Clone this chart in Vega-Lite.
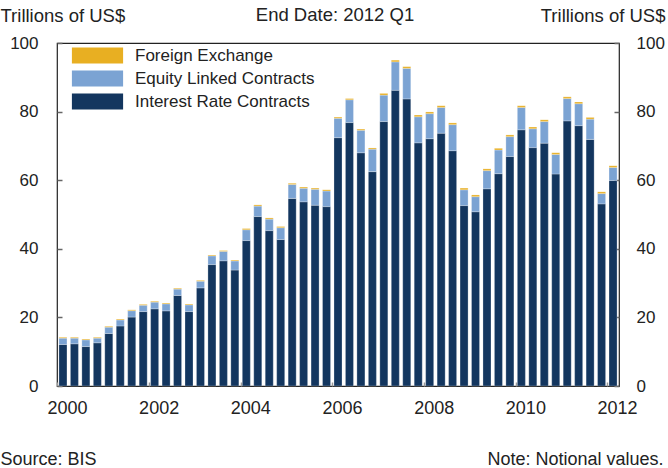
{
  "$schema": "https://vega.github.io/schema/vega-lite/v6.json",
  "width": 562,
  "height": 343,
  "autosize": {"type": "none"},
  "padding": {"left": 57, "top": 43, "right": 49, "bottom": 82},
  "background": "white",
  "config": {
    "font": "Liberation Sans",
    "view": {"stroke": "#222", "strokeWidth": 1.2},
    "axis": {"grid": false, "domain": false, "labelFont": "Liberation Sans", "titleFont": "Liberation Sans", "labelColor": "#222", "titleColor": "#222", "titleFontWeight": "normal"}
  },
  "title": {"text": "End Date: 2012 Q1", "anchor": "middle", "frame": "group", "offset": -33, "dx": -3, "baseline": "alphabetic", "fontSize": 18.5, "fontWeight": "normal", "color": "#222", "font": "Liberation Sans"},
  "data": {
    "values": [
      {"q": "2000 Q1", "Interest Rate Contracts": 12.1, "Equity Linked Contracts": 1.85, "Foreign Exchange": 0.25},
      {"q": "2000 Q2", "Interest Rate Contracts": 12.3, "Equity Linked Contracts": 1.65, "Foreign Exchange": 0.25},
      {"q": "2000 Q3", "Interest Rate Contracts": 11.5, "Equity Linked Contracts": 1.95, "Foreign Exchange": 0.25},
      {"q": "2000 Q4", "Interest Rate Contracts": 12.6, "Equity Linked Contracts": 1.35, "Foreign Exchange": 0.25},
      {"q": "2001 Q1", "Interest Rate Contracts": 15.3, "Equity Linked Contracts": 1.85, "Foreign Exchange": 0.25},
      {"q": "2001 Q2", "Interest Rate Contracts": 17.5, "Equity Linked Contracts": 1.75, "Foreign Exchange": 0.25},
      {"q": "2001 Q3", "Interest Rate Contracts": 20.1, "Equity Linked Contracts": 1.85, "Foreign Exchange": 0.25},
      {"q": "2001 Q4", "Interest Rate Contracts": 21.7, "Equity Linked Contracts": 1.85, "Foreign Exchange": 0.25},
      {"q": "2002 Q1", "Interest Rate Contracts": 22.5, "Equity Linked Contracts": 1.95, "Foreign Exchange": 0.25},
      {"q": "2002 Q2", "Interest Rate Contracts": 21.9, "Equity Linked Contracts": 2.05, "Foreign Exchange": 0.25},
      {"q": "2002 Q3", "Interest Rate Contracts": 26.4, "Equity Linked Contracts": 1.85, "Foreign Exchange": 0.25},
      {"q": "2002 Q4", "Interest Rate Contracts": 21.7, "Equity Linked Contracts": 1.95, "Foreign Exchange": 0.25},
      {"q": "2003 Q1", "Interest Rate Contracts": 28.6, "Equity Linked Contracts": 1.95, "Foreign Exchange": 0.25},
      {"q": "2003 Q2", "Interest Rate Contracts": 35.4, "Equity Linked Contracts": 2.55, "Foreign Exchange": 0.25},
      {"q": "2003 Q3", "Interest Rate Contracts": 36.5, "Equity Linked Contracts": 2.75, "Foreign Exchange": 0.25},
      {"q": "2003 Q4", "Interest Rate Contracts": 33.8, "Equity Linked Contracts": 2.65, "Foreign Exchange": 0.25},
      {"q": "2004 Q1", "Interest Rate Contracts": 42.4, "Equity Linked Contracts": 3.15, "Foreign Exchange": 0.35},
      {"q": "2004 Q2", "Interest Rate Contracts": 49.4, "Equity Linked Contracts": 3.05, "Foreign Exchange": 0.35},
      {"q": "2004 Q3", "Interest Rate Contracts": 45.3, "Equity Linked Contracts": 3.35, "Foreign Exchange": 0.35},
      {"q": "2004 Q4", "Interest Rate Contracts": 42.7, "Equity Linked Contracts": 3.45, "Foreign Exchange": 0.35},
      {"q": "2005 Q1", "Interest Rate Contracts": 54.7, "Equity Linked Contracts": 4.05, "Foreign Exchange": 0.35},
      {"q": "2005 Q2", "Interest Rate Contracts": 53.7, "Equity Linked Contracts": 3.95, "Foreign Exchange": 0.35},
      {"q": "2005 Q3", "Interest Rate Contracts": 52.7, "Equity Linked Contracts": 4.65, "Foreign Exchange": 0.35},
      {"q": "2005 Q4", "Interest Rate Contracts": 52.3, "Equity Linked Contracts": 4.55, "Foreign Exchange": 0.35},
      {"q": "2006 Q1", "Interest Rate Contracts": 72.4, "Equity Linked Contracts": 5.65, "Foreign Exchange": 0.35},
      {"q": "2006 Q2", "Interest Rate Contracts": 76.8, "Equity Linked Contracts": 6.65, "Foreign Exchange": 0.35},
      {"q": "2006 Q3", "Interest Rate Contracts": 68.0, "Equity Linked Contracts": 6.55, "Foreign Exchange": 0.35},
      {"q": "2006 Q4", "Interest Rate Contracts": 62.5, "Equity Linked Contracts": 6.55, "Foreign Exchange": 0.35},
      {"q": "2007 Q1", "Interest Rate Contracts": 77.1, "Equity Linked Contracts": 7.7, "Foreign Exchange": 0.5},
      {"q": "2007 Q2", "Interest Rate Contracts": 86.2, "Equity Linked Contracts": 8.3, "Foreign Exchange": 0.5},
      {"q": "2007 Q3", "Interest Rate Contracts": 83.7, "Equity Linked Contracts": 8.9, "Foreign Exchange": 0.5},
      {"q": "2007 Q4", "Interest Rate Contracts": 70.9, "Equity Linked Contracts": 7.6, "Foreign Exchange": 0.5},
      {"q": "2008 Q1", "Interest Rate Contracts": 72.1, "Equity Linked Contracts": 7.3, "Foreign Exchange": 0.5},
      {"q": "2008 Q2", "Interest Rate Contracts": 73.7, "Equity Linked Contracts": 7.5, "Foreign Exchange": 0.5},
      {"q": "2008 Q3", "Interest Rate Contracts": 68.6, "Equity Linked Contracts": 7.6, "Foreign Exchange": 0.5},
      {"q": "2008 Q4", "Interest Rate Contracts": 52.6, "Equity Linked Contracts": 4.6, "Foreign Exchange": 0.5},
      {"q": "2009 Q1", "Interest Rate Contracts": 50.8, "Equity Linked Contracts": 4.4, "Foreign Exchange": 0.5},
      {"q": "2009 Q2", "Interest Rate Contracts": 57.5, "Equity Linked Contracts": 5.3, "Foreign Exchange": 0.5},
      {"q": "2009 Q3", "Interest Rate Contracts": 61.9, "Equity Linked Contracts": 6.9, "Foreign Exchange": 0.5},
      {"q": "2009 Q4", "Interest Rate Contracts": 66.9, "Equity Linked Contracts": 5.8, "Foreign Exchange": 0.5},
      {"q": "2010 Q1", "Interest Rate Contracts": 74.7, "Equity Linked Contracts": 6.5, "Foreign Exchange": 0.5},
      {"q": "2010 Q2", "Interest Rate Contracts": 69.5, "Equity Linked Contracts": 5.5, "Foreign Exchange": 0.5},
      {"q": "2010 Q3", "Interest Rate Contracts": 70.8, "Equity Linked Contracts": 6.3, "Foreign Exchange": 0.5},
      {"q": "2010 Q4", "Interest Rate Contracts": 61.8, "Equity Linked Contracts": 5.7, "Foreign Exchange": 0.5},
      {"q": "2011 Q1", "Interest Rate Contracts": 77.3, "Equity Linked Contracts": 6.5, "Foreign Exchange": 0.5},
      {"q": "2011 Q2", "Interest Rate Contracts": 75.9, "Equity Linked Contracts": 6.4, "Foreign Exchange": 0.5},
      {"q": "2011 Q3", "Interest Rate Contracts": 71.9, "Equity Linked Contracts": 5.9, "Foreign Exchange": 0.5},
      {"q": "2011 Q4", "Interest Rate Contracts": 53.1, "Equity Linked Contracts": 3.0, "Foreign Exchange": 0.5},
      {"q": "2012 Q1", "Interest Rate Contracts": 59.9, "Equity Linked Contracts": 3.8, "Foreign Exchange": 0.5}
    ]
  },
  "layer": [
    {
      "transform": [
        {"fold": ["Interest Rate Contracts", "Equity Linked Contracts", "Foreign Exchange"], "as": ["series", "value"]},
        {"calculate": "indexof(['Interest Rate Contracts','Equity Linked Contracts','Foreign Exchange'], datum.series)", "as": "stackOrder"}
      ],
      "mark": {"type": "bar", "stroke": "#ffffff", "strokeWidth": 0.5, "strokeOpacity": 0.5},
      "encoding": {
        "x": {
          "field": "q", "type": "ordinal", "sort": null,
          "scale": {"paddingInner": 0.3, "paddingOuter": 0.17},
          "axis": {
            "orient": "bottom",
            "values": ["2000 Q1", "2002 Q1", "2004 Q1", "2006 Q1", "2008 Q1", "2010 Q1", "2012 Q1"],
            "labelExpr": "substring(datum.value, 0, 4)",
            "labelAngle": 0, "labelFontSize": 18, "labelPadding": 17,
            "bandPosition": 0, "tickOffset": -1.7, "labelOffset": 5.7,
            "tickSize": -4, "tickColor": "#999", "tickWidth": 1.5,
            "title": "Source: BIS", "titleFontSize": 18, "titleX": -57, "titleY": 78, "titleAlign": "left", "titleBaseline": "alphabetic", "titleAnchor": null
          }
        },
        "y": {
          "field": "value", "type": "quantitative", "stack": "zero",
          "scale": {"domain": [0, 100], "nice": false},
          "axis": {
            "orient": "left",
            "values": [0, 20, 40, 60, 80, 100], "labelFontSize": 17, "labelPadding": 24,
            "tickSize": -5, "tickColor": "#666", "tickWidth": 1.5,
            "title": "Trillions of US$", "titleFontSize": 18.5, "titleAngle": 0, "titleX": -57, "titleY": -22, "titleAlign": "left", "titleBaseline": "alphabetic"
          }
        },
        "color": {
          "field": "series", "type": "nominal",
          "scale": {"domain": ["Foreign Exchange", "Equity Linked Contracts", "Interest Rate Contracts"], "range": ["#E8AF22", "#7BA3D3", "#13365F"]},
          "legend": {
            "title": null, "orient": "none", "legendX": 32, "legendY": 4,
            "symbolType": "M-3.2,-1H3.2V1H-3.2Z", "symbolSize": 256, "symbolStrokeWidth": 0, "symbolOpacity": 1,
            "labelFontSize": 17, "labelColor": "#222", "labelOffset": 29, "labelLimit": 0, "rowPadding": 5, "labelFont": "Liberation Sans"
          }
        },
        "order": {"field": "stackOrder", "type": "quantitative"}
      }
    },
    {
      "mark": {"type": "point", "opacity": 0},
      "encoding": {
        "x": {
          "field": "q", "type": "ordinal", "sort": null,
          "axis": {"orient": "top", "labels": false, "ticks": false, "domain": false, "title": "Note: Notional values.", "titleFontSize": 18, "titleX": 606, "titleY": 421, "titleAlign": "right", "titleBaseline": "alphabetic", "titleAnchor": null}
        },
        "y": {
          "field": "Interest Rate Contracts", "type": "quantitative",
          "axis": {
            "orient": "right", "values": [0, 20, 40, 60, 80, 100], "labelFontSize": 17, "labelPadding": 22,
            "tickSize": -5, "tickColor": "#666", "tickWidth": 1.5,
            "title": "Trillions of US$", "titleFontSize": 18.5, "titleAngle": 0, "titleX": 46, "titleY": -22, "titleAlign": "right", "titleBaseline": "alphabetic"
          }
        }
      }
    }
  ],
  "resolve": {"axis": {"x": "independent", "y": "independent"}}
}
